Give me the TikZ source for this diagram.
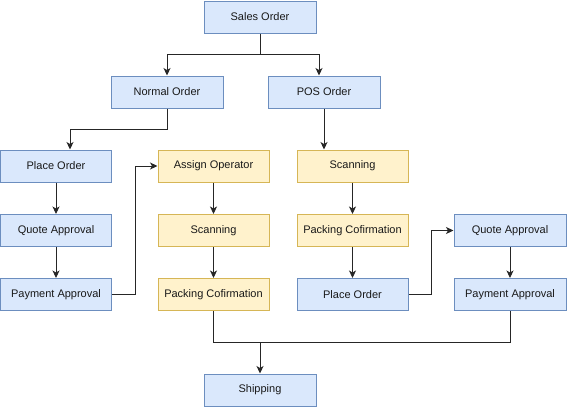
\documentclass[tikz,border=0pt]{standalone}
\usepackage{fontspec}
\setmainfont{Liberation Sans}
\usetikzlibrary{arrows.meta}
\definecolor{bfill}{HTML}{DAE8FC}
\definecolor{bdraw}{HTML}{6C8EBF}
\definecolor{yfill}{HTML}{FFF2CC}
\definecolor{ydraw}{HTML}{D6B656}
\tikzset{
  box/.style={rectangle, minimum width=111pt, minimum height=32pt, inner sep=0pt, line width=1pt, text=black!90, font=\fontsize{11}{13}\selectfont},
  bluebox/.style={box, fill=bfill, draw=bdraw},
  yelbox/.style={box, fill=yfill, draw=ydraw},
  arr/.style={line width=0.9pt, draw=black!85, -{Stealth[length=7.5pt,width=7pt,inset=2pt]}},
  ln/.style={line width=0.9pt, draw=black!85}
}
\begin{document}
\begin{tikzpicture}[x=1pt,y=-1pt]
\useasboundingbox (0,0) rectangle (570,407);
\node[bluebox, minimum width=112pt] (sales) at (260,17) {Sales Order};
\node[bluebox, minimum width=112pt] (normal) at (167,92) {Normal Order};
\node[bluebox, minimum width=112pt] (pos) at (324,92) {POS Order};
\node[bluebox] (place1) at (56,166) {Place Order};
\node[yelbox] (assign) at (213.5,166) {Assign Operator};
\node[yelbox] (scan2) at (352.5,166) {Scanning};
\node[bluebox] (quote1) at (56,230.5) {Quote Approval};
\node[yelbox] (scan1) at (213.5,230.5) {Scanning};
\node[yelbox] (pack2) at (352.5,230.5) {Packing Cofirmation};
\node[bluebox, minimum width=112pt] (quote2) at (510,230.5) {Quote Approval};
\node[bluebox] (pay1) at (56,294.5) {Payment Approval};
\node[yelbox] (pack1) at (213.5,294.5) {Packing Cofirmation};
\node[bluebox] (place2) at (352.5,294.5) {Place Order};
\node[bluebox, minimum width=112pt] (pay2) at (510,294.5) {Payment Approval};
\node[bluebox, minimum width=112pt] (ship) at (260,390) {Shipping};
\coordinate (j1) at (260,54);
\coordinate (j2) at (167,129);
\coordinate (j3) at (135,294.5);
\coordinate (j4) at (431,294.5);
\coordinate (j5) at (260,342);
\coordinate (j6) at (213.5,342);
\draw[ln] (sales.south) -- (j1);
\draw[arr] (j1) -| (normal.north);
\draw[arr] (j1) -| ([xshift=-5pt]pos.north);
\draw[arr] (normal.south) -- (j2) -| ([xshift=14pt]place1.north);
\draw[arr] (place1) -- (quote1);
\draw[arr] (quote1) -- (pay1);
\draw[arr] (pay1.east) -- (j3) |- (assign.west);
\draw[arr] (assign) -- (scan1);
\draw[arr] (scan1) -- (pack1);
\draw[arr] (pos.south) -- (pos.south |- scan2.north);
\draw[arr] (scan2) -- (pack2);
\draw[arr] (pack2) -- (place2);
\draw[arr] (place2.east) -- (j4) |- (quote2.west);
\draw[arr] (quote2) -- (pay2);
\draw[ln] (pack1.south) -- (j6) -| (pay2.south);
\draw[arr] (j5) -- (ship.north);
\end{tikzpicture}
\end{document}
